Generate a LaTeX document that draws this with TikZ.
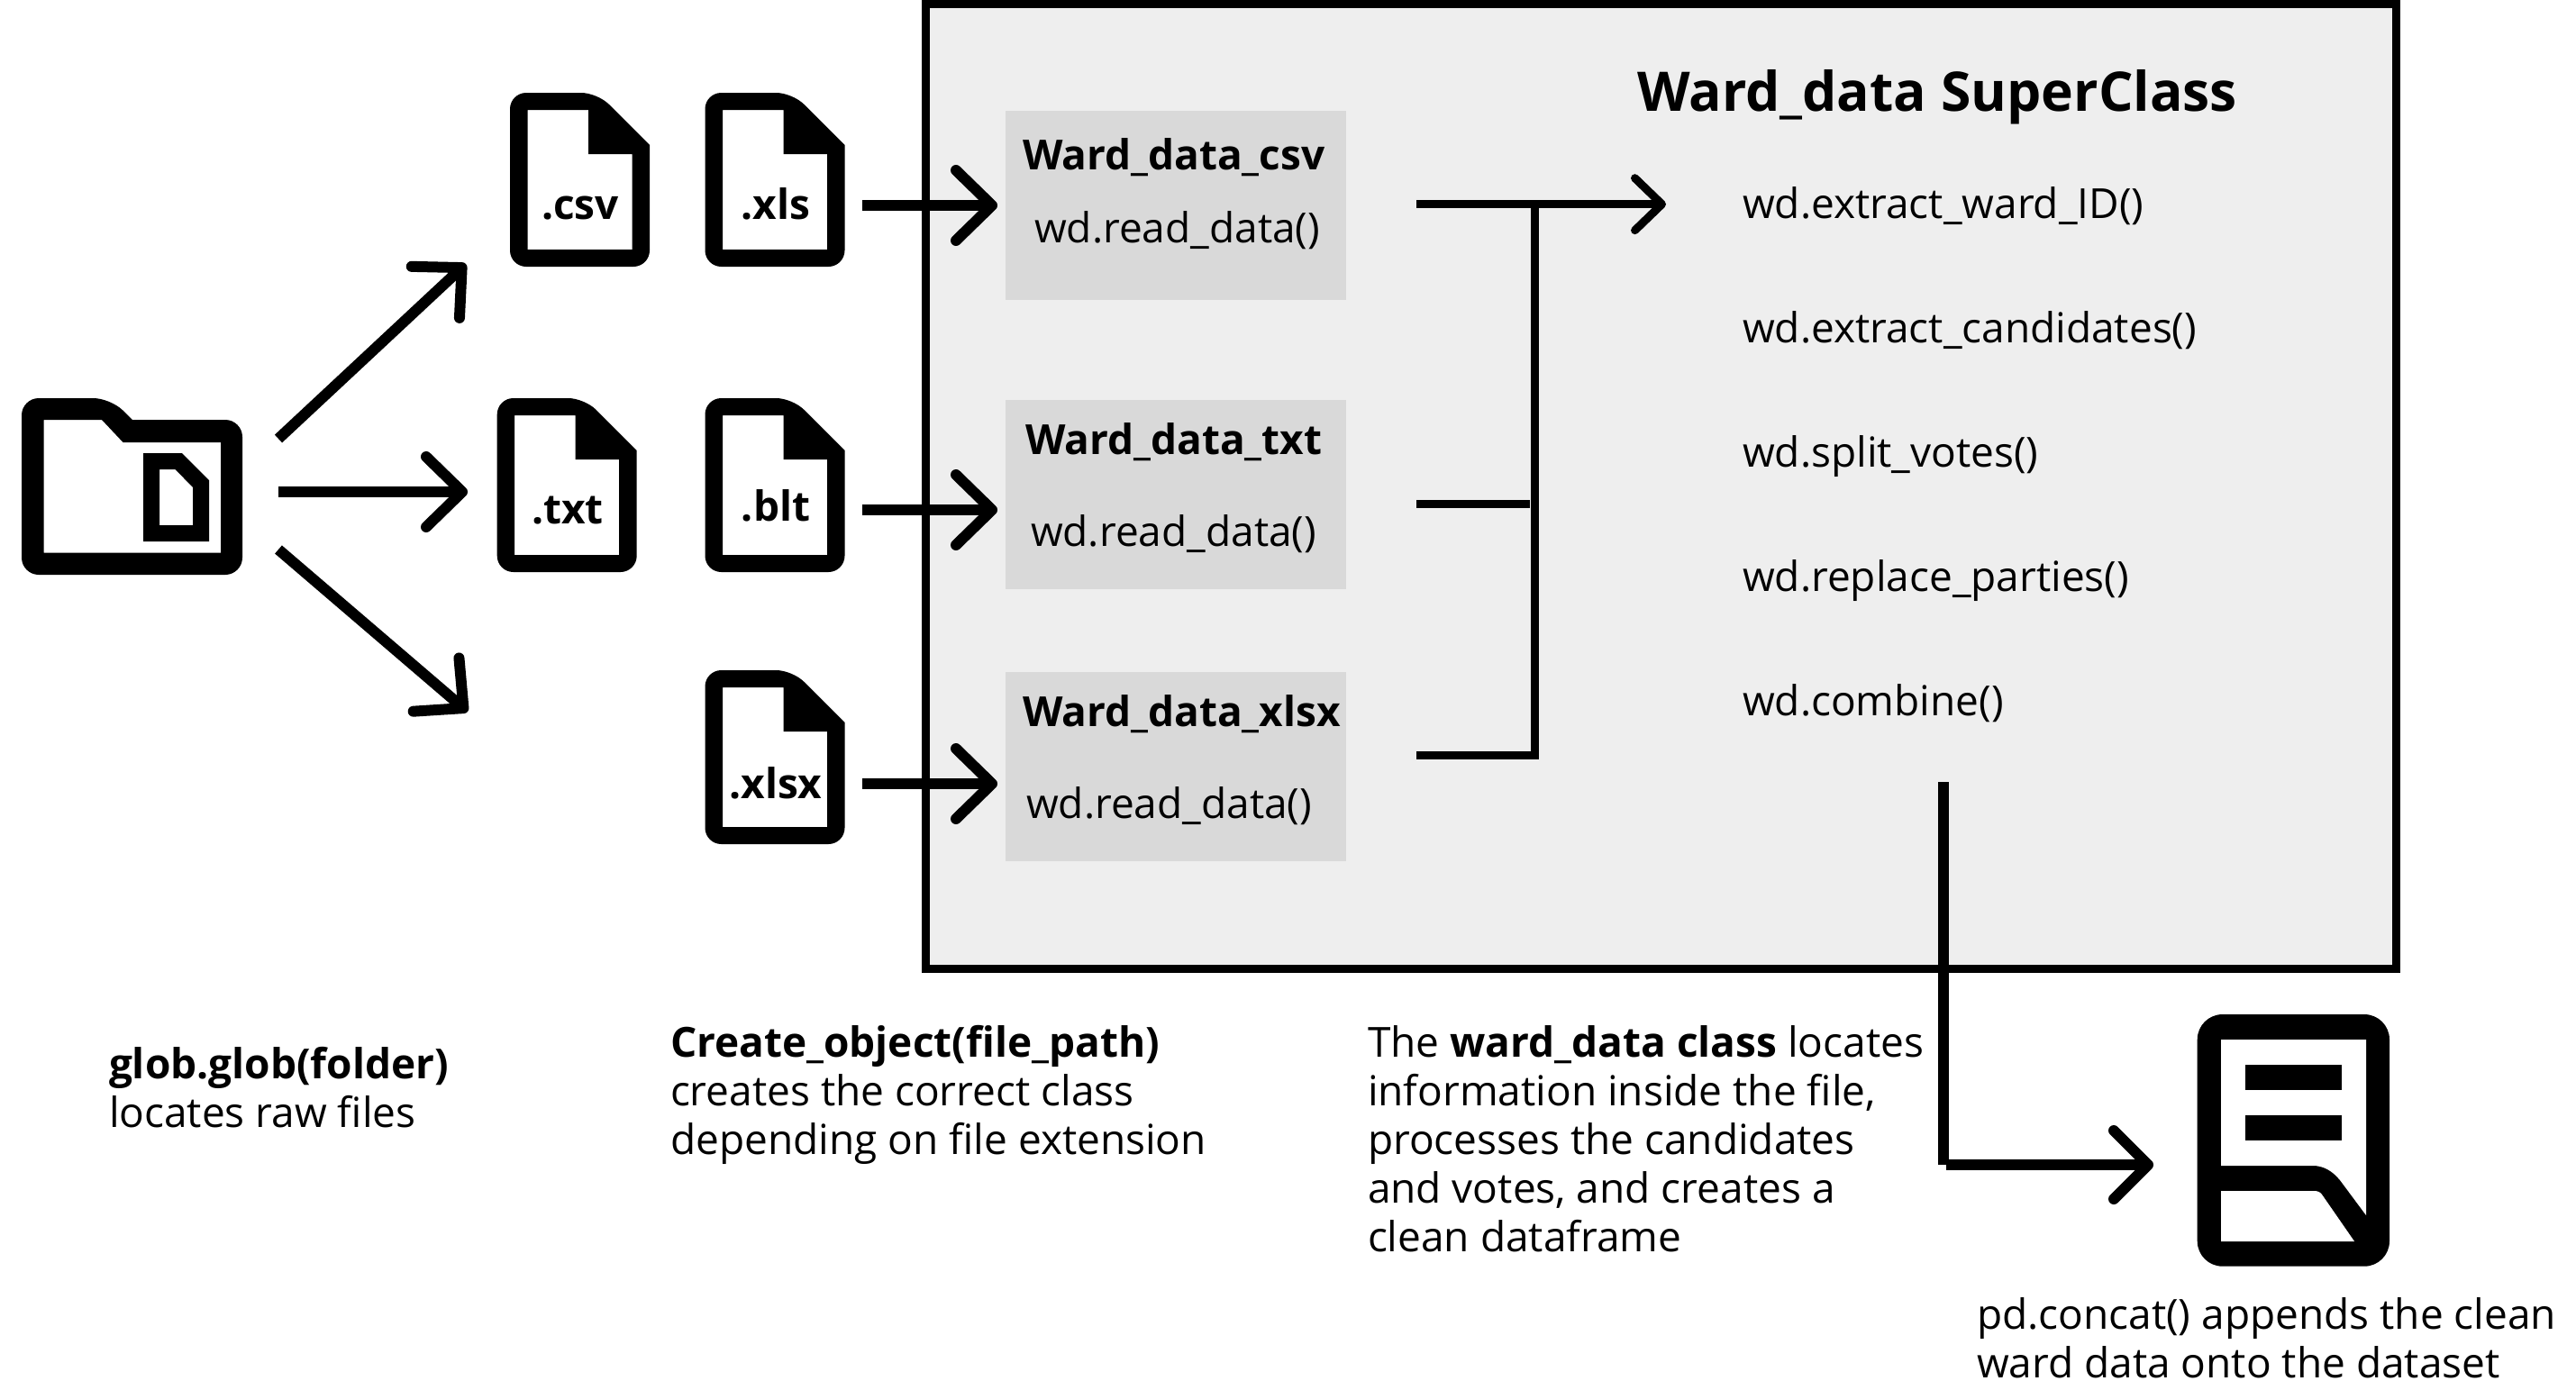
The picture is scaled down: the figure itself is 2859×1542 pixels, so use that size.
\documentclass[tikz,border=0pt]{standalone}
\usepackage{fontspec}
\setmainfont{Open Sans}
\usetikzlibrary{arrows.meta}
\definecolor{panel}{HTML}{EEEEEE}
\definecolor{classbox}{HTML}{D9D9D9}
\newcommand{\bodysize}{\fontsize{23}{27}\selectfont}
\newcommand{\firstline}{\rule{0pt}{20pt}}
\tikzset{
  x=0.5pt,y=-0.5pt,
  panelbox/.style={draw=black,line width=4.5pt,fill=panel,minimum width=816pt,minimum height=535.5pt,inner sep=0,outer sep=0},
  classnode/.style={fill=classbox,minimum width=189pt,minimum height=105pt,inner sep=0,outer sep=0},
  txt/.style={anchor=base west,inner sep=0,outer sep=0,font=\bodysize},
  titletxt/.style={anchor=base west,inner sep=0,outer sep=0,font=\bodysize\bfseries},
  headtxt/.style={anchor=base west,inner sep=0,outer sep=0,font=\fontsize{30.3}{34}\selectfont\bfseries},
  icontxt/.style={anchor=base,inner sep=0,outer sep=0,font=\bodysize\bfseries},
  para/.style={anchor=north west,inner sep=0,outer sep=0,align=left,font=\bodysize},
  conn/.style={line width=4.5pt},
  bigarrow/.style={line width=6pt,-{Straight Barb[round,length=20pt,width=39pt]}},
  smallarrow/.style={line width=4.5pt,-{Straight Barb[round,length=15pt,width=29pt]}},
  docarrow/.style={line width=6pt,-{Straight Barb[round,length=19pt,width=38pt]}},
}
\newcommand{\fileicon}[2]{%
  \begin{scope}[shift={(#1,#2)}]
  \fill[black,even odd rule]
    [rounded corners=9pt] (0,80) -- (0,0) -- (97,0) [sharp corners] -- (155,58)
    [rounded corners=9pt] -- (155,193) -- (0,193) -- cycle
    [sharp corners] (19.5,19) -- (87,19) -- (87,68) -- (135.5,68) -- (135.5,174) -- (19.5,174) -- cycle;
  \end{scope}
}
\begin{document}
\begin{tikzpicture}
\useasboundingbox (0,0) rectangle (2859,1542);

% panel and class boxes
\node[panelbox] (panel) at (1843.5,540) {};
\node[classnode] (csvbox) at (1305,228) {};
\node[classnode] (txtbox) at (1305,549) {};
\node[classnode] (xlsxbox) at (1305,851) {};

% folder icon
\fill[black,even odd rule]
  [rounded corners=9.5pt] (24,500) -- (24,442) -- (122.5,442) [sharp corners] -- (147,466)
  [rounded corners=9.5pt] -- (269,466) -- (269,638) -- (24,638) -- cycle
  [sharp corners] (48.5,466) -- (113,466) -- (136.5,491) -- (245,491) -- (245,613.6) -- (48.5,613.6) -- cycle
  (159,503) -- (202,503) -- (232,533) -- (232,601) -- (159,601) -- cycle
  (177,521) -- (194.5,521) -- (214,541) -- (214,583) -- (177,583) -- cycle;

% file icons
\fileicon{566}{103}
\fileicon{782.5}{103}
\fileicon{551.7}{442}
\fileicon{782.5}{442}
\fileicon{782.5}{744}
\node[icontxt] (csvt) at (644,243) {.csv};
\node[icontxt] (xlst) at (861,243) {.xls};
\node[icontxt] (txtt) at (630,581) {.txt};
\node[icontxt] (bltt) at (861,578) {.blt};
\node[icontxt] (xlsxt) at (861,886) {.xlsx};

% document icon
\fill[black,rounded corners=14pt] (2438.7,1126) rectangle (2652,1405.7);
\fill[white] (2465,1154) -- (2626,1154) -- (2626,1349) -- (2597,1310)
  .. controls (2588,1299) and (2578,1294) .. (2567,1294) -- (2465,1294) -- cycle;
\fill[white] (2465,1322) -- (2568,1322) .. controls (2572,1322) and (2575,1323) .. (2577,1326) -- (2613,1378) -- (2465,1378) -- cycle;
\fill[black] (2492,1182) rectangle (2599,1210);
\fill[black] (2492,1238) rectangle (2599,1266);

% connector end points
\coordinate (fa1) at (309,487); \coordinate (fa1e) at (517,293);
\coordinate (fa2) at (309,546); \coordinate (fa2e) at (519,546);
\coordinate (fa3) at (309,610); \coordinate (fa3e) at (519,790);
\coordinate (xa1) at (957,228); \coordinate (xa1e) at (1107,228);
\coordinate (xa2) at (957,566); \coordinate (xa2e) at (1107,566);
\coordinate (xa3) at (957,870); \coordinate (xa3e) at (1107,870);
\coordinate (c1) at (1572,226.7); \coordinate (c1e) at (1849,226.7);
\coordinate (c2) at (1572,559.5); \coordinate (c2e) at (1698,559.5);
\coordinate (c3) at (1572,838.5);
\coordinate (j1) at (1703,226.7); \coordinate (j3) at (1703,838.5);
\coordinate (d0) at (2157,868); \coordinate (d1) at (2157,1293);
\coordinate (d2) at (2160,1293); \coordinate (d2e) at (2390,1293);

% connectors
\draw[bigarrow] (fa1) -- (fa1e);
\draw[bigarrow] (fa2) -- (fa2e);
\draw[bigarrow] (fa3) -- (fa3e);
\draw[bigarrow] (xa1) -- (xa1e);
\draw[bigarrow] (xa2) -- (xa2e);
\draw[bigarrow] (xa3) -- (xa3e);
\draw[smallarrow] (c1) -- (c1e);
\draw[conn] (c2) -- (c2e);
\draw[conn] (c3) -- (j3) -- (j1);
\draw[conn,line width=6pt] (d0) -- (d1);
\draw[docarrow] (d2) -- (d2e);

% texts
\node[headtxt] (title) at (1817,123) {Ward\_data SuperClass};
\node[titletxt] (t1) at (1135,188) {Ward\_data\_csv};
\node[txt] (r1) at (1148,269) {wd.read\_data()};
\node[titletxt] (t2) at (1138,504) {Ward\_data\_txt};
\node[txt] (r2) at (1144,606) {wd.read\_data()};
\node[titletxt] (t3) at (1135,806) {Ward\_data\_xlsx};
\node[txt] (r3) at (1139,908) {wd.read\_data()};
\node[txt] (m1) at (1934,242) {wd.extract\_ward\_ID()};
\node[txt] (m2) at (1934,380) {wd.extract\_candidates()};
\node[txt] (m3) at (1934,518) {wd.split\_votes()};
\node[txt] (m4) at (1934,656) {wd.replace\_parties()};
\node[txt] (m5) at (1934,794) {wd.combine()};

\node[para] (glob) at (121,1157) {\firstline\textbf{glob.glob(folder)}\\locates raw files};
\node[para] (create) at (744,1133) {\firstline\textbf{Create\_object(file\_path)}\\creates the correct class\\depending on file extension};
\node[para] (ward) at (1518,1133) {\firstline The \textbf{ward\_data class} locates\\information inside the file,\\processes the candidates\\and votes, and creates a\\clean dataframe};
\node[para] (concat) at (2194,1435) {\firstline pd.concat() appends the clean\\ward data onto the dataset};
\end{tikzpicture}
\end{document}
